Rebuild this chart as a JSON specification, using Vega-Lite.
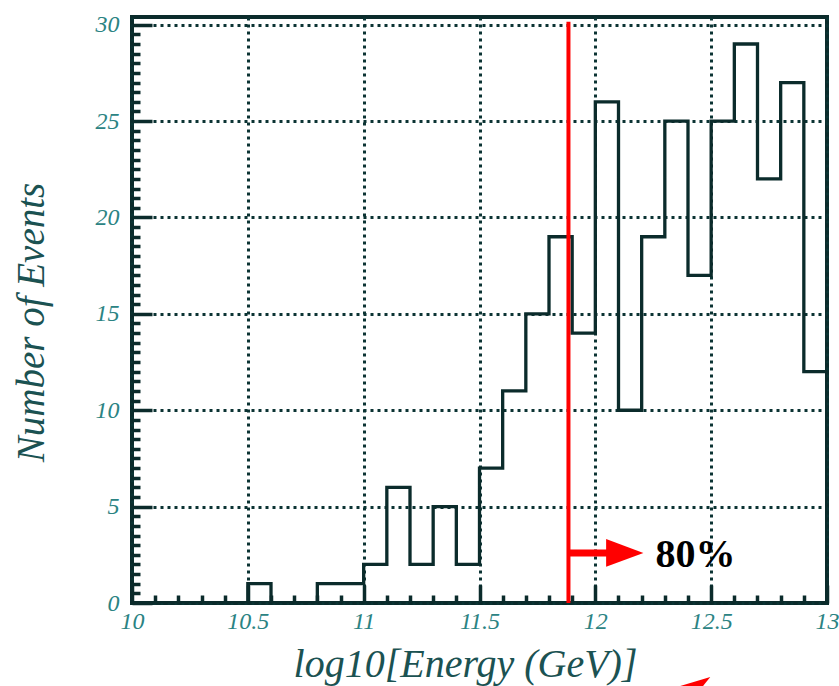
{
  "$schema": "https://vega.github.io/schema/vega-lite/v6.json",
  "width": 695,
  "height": 586,
  "autosize": "none",
  "padding": {"left": 132, "top": 17, "right": 12, "bottom": 83},
  "background": "white",
  "config": {
    "view": {"stroke": "#0b2b2b", "strokeWidth": 4},
    "axis": {
      "labelFont": "Liberation Serif",
      "labelFontStyle": "italic",
      "labelFontSize": 24,
      "labelColor": "#2b8383",
      "labelOverlap": false,
      "labelFlush": false,
      "labelBound": false,
      "titleFont": "Liberation Serif",
      "titleFontStyle": "italic",
      "titleFontWeight": "normal",
      "titleColor": "#1b5252",
      "domain": false,
      "tickColor": "#0b2b2b",
      "tickWidth": 3.5,
      "gridColor": "#0b3333",
      "gridWidth": 3,
      "gridDash": [3, 4],
      "gridOpacity": 1
    }
  },
  "datasets": {
    "hist": [
      {"e": 10.0, "n": 0}, {"e": 10.1, "n": 0}, {"e": 10.2, "n": 0}, {"e": 10.3, "n": 0}, {"e": 10.4, "n": 0},
      {"e": 10.5, "n": 1}, {"e": 10.6, "n": 0}, {"e": 10.7, "n": 0}, {"e": 10.8, "n": 1}, {"e": 10.9, "n": 1},
      {"e": 11.0, "n": 2}, {"e": 11.1, "n": 6}, {"e": 11.2, "n": 2}, {"e": 11.3, "n": 5}, {"e": 11.4, "n": 2},
      {"e": 11.5, "n": 7}, {"e": 11.6, "n": 11}, {"e": 11.7, "n": 15}, {"e": 11.8, "n": 19}, {"e": 11.9, "n": 14},
      {"e": 12.0, "n": 26}, {"e": 12.1, "n": 10}, {"e": 12.2, "n": 19}, {"e": 12.3, "n": 25}, {"e": 12.4, "n": 17},
      {"e": 12.5, "n": 25}, {"e": 12.6, "n": 29}, {"e": 12.7, "n": 22}, {"e": 12.8, "n": 27}, {"e": 12.9, "n": 12},
      {"e": 13.0, "n": 0}
    ],
    "cut": [{"e": 11.884, "lo": 0, "hi": 30.15}],
    "arrow": [{"e": 11.884, "e2": 12.07, "n": 2.6, "tip": 12.127, "label": "80%", "tx": 12.26, "ty": 1.88}],
    "stray": [{"e": 12.453, "n": -4.2}]
  },
  "resolve": {"axis": {"x": "independent", "y": "independent"}},
  "layer": [
    {
      "data": {"name": "hist"},
      "mark": {"type": "line", "interpolate": "step-after", "color": "#0b2b2b", "strokeWidth": 3.3, "strokeCap": "square", "clip": true},
      "encoding": {
        "x": {
          "field": "e", "type": "quantitative",
          "scale": {"domain": [10, 13], "nice": false, "zero": false},
          "axis": {
            "orient": "bottom",
            "title": "log10[Energy (GeV)]",
            "titleFontSize": 40,
            "values": [10, 10.5, 11, 11.5, 12, 12.5, 13],
            "format": "~g",
            "tickSize": -18,
            "labelPadding": 24,
            "grid": true,
            "titleX": 333, "titleY": 73, "titleAlign": "center", "titleBaseline": "alphabetic"
          }
        },
        "y": {
          "field": "n", "type": "quantitative",
          "scale": {"domain": [0, 30.4], "nice": false},
          "axis": {
            "orient": "left",
            "title": "Number of Events",
            "titleFontSize": 39,
            "values": [0, 5, 10, 15, 20, 25, 30],
            "tickSize": -20,
            "labelPadding": 33,
            "grid": true,
            "titleX": -89, "titleY": 305, "titleAngle": -90, "titleAlign": "center", "titleBaseline": "alphabetic"
          }
        }
      }
    },
    {
      "data": {"name": "cut"},
      "mark": {"type": "rule", "color": "#ff0000", "strokeWidth": 4},
      "encoding": {
        "x": {
          "field": "e", "type": "quantitative",
          "axis": {
            "orient": "bottom", "title": null, "labels": false, "grid": false,
            "values": [10.1, 10.2, 10.3, 10.4, 10.6, 10.7, 10.8, 10.9, 11.1, 11.2, 11.3, 11.4, 11.6, 11.7, 11.8, 11.9, 12.1, 12.2, 12.3, 12.4, 12.6, 12.7, 12.8, 12.9],
            "tickSize": -8
          }
        },
        "y": {
          "field": "lo", "type": "quantitative",
          "axis": {
            "orient": "left", "title": null, "labels": false, "grid": false,
            "values": [0.5, 1, 1.5, 2, 2.5, 3, 3.5, 4, 4.5, 5.5, 6, 6.5, 7, 7.5, 8, 8.5, 9, 9.5, 10.5, 11, 11.5, 12, 12.5, 13, 13.5, 14, 14.5, 15.5, 16, 16.5, 17, 17.5, 18, 18.5, 19, 19.5, 20.5, 21, 21.5, 22, 22.5, 23, 23.5, 24, 24.5, 25.5, 26, 26.5, 27, 27.5, 28, 28.5, 29, 29.5],
            "tickSize": -8
          }
        },
        "y2": {"field": "hi"}
      }
    },
    {
      "data": {"name": "arrow"},
      "mark": {"type": "rule", "color": "#ff0000", "strokeWidth": 7},
      "encoding": {
        "x": {"field": "e", "type": "quantitative", "axis": null},
        "x2": {"field": "e2"},
        "y": {"field": "n", "type": "quantitative", "axis": null}
      }
    },
    {
      "data": {"name": "arrow"},
      "mark": {"type": "point", "shape": "M-1,-0.74L1,0L-1,0.74Z", "filled": true, "color": "#ff0000", "opacity": 1, "size": 1391},
      "encoding": {
        "x": {"field": "tip", "type": "quantitative", "axis": null},
        "y": {"field": "n", "type": "quantitative", "axis": null}
      }
    },
    {
      "data": {"name": "arrow"},
      "mark": {"type": "text", "font": "Liberation Serif", "fontWeight": "bold", "fontSize": 40, "color": "#000000", "align": "left", "baseline": "alphabetic"},
      "encoding": {
        "x": {"field": "tx", "type": "quantitative", "axis": null},
        "y": {"field": "ty", "type": "quantitative", "axis": null},
        "text": {"field": "label"}
      }
    },
    {
      "data": {"name": "stray"},
      "mark": {"type": "point", "shape": "M1,-0.7L-2,0.2L-0.2,0.8Z", "filled": true, "color": "#ff0000", "opacity": 1, "size": 400},
      "encoding": {
        "x": {"field": "e", "type": "quantitative", "axis": null},
        "y": {"field": "n", "type": "quantitative", "axis": null}
      }
    }
  ]
}
